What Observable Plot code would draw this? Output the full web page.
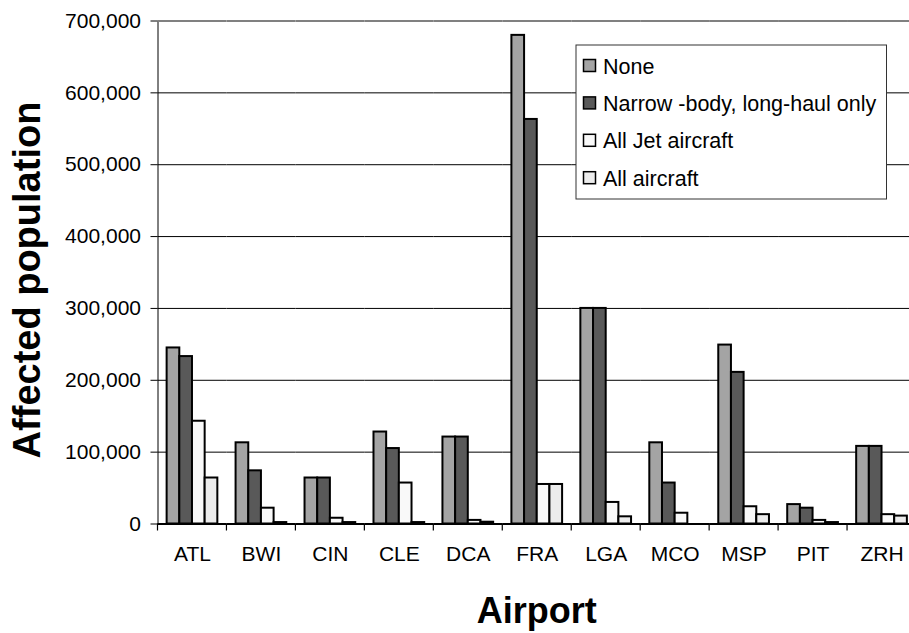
<!DOCTYPE html>
<html>
<head>
<meta charset="utf-8">
<script src="https://cdn.jsdelivr.net/npm/d3@7"></script>
<script src="https://cdn.jsdelivr.net/npm/@observablehq/plot@0.6"></script>
<style>
  html, body { margin: 0; padding: 0; background: #fff; overflow: hidden; }
  #wrap { position: relative; width: 909px; height: 633px; overflow: hidden; }
  #wrap svg { max-width: none !important; }
</style>
</head>
<body>
<div id="wrap"></div>
<script>
const airports = ["ATL","BWI","CIN","CLE","DCA","FRA","LGA","MCO","MSP","PIT","ZRH"];
const seriesNames = ["None","Narrow -body, long-haul only","All Jet aircraft","All aircraft"];
const noneVals        = [245000,113000,64000,128000,121000,680000,300000,113000,249000,27000,108000];
const narrowVals      = [233000, 74000,64000,105000,121000,563000,300000, 57000,211000,22000,108000];
const allJetVals      = [143000, 22000, 8000, 57000,  5000, 55000, 30000, 15000, 24000, 5000, 13000];
const allAircraftVals = [ 64000,  2000, 2000,  2000,  2500, 55000, 10000,     0, 13000, 2000, 11000];
const seriesColors = ["#a4a4a4","#595959","#f9f9f9","#ececec"];
const yTicks = [0,100000,200000,300000,400000,500000,600000,700000];
const yTitle = "Affected population";
const xTitle = "Airport";

const seriesValues = [noneVals, narrowVals, allJetVals, allAircraftVals];
const rows = [];
airports.forEach((a, i) => {
  seriesNames.forEach((s, j) => rows.push({airport: a, series: s, value: seriesValues[j][i]}));
});

const W = 925, H = 633;
const pLeft = 157.5, pRight = 916, pTop = 20.5, pBottom = 523.5;
const font = "'Liberation Sans', Arial, sans-serif";

const chart = Plot.plot({
  width: W, height: H,
  marginLeft: pLeft, marginRight: W - pRight, marginTop: pTop, marginBottom: H - pBottom,
  style: {fontFamily: font, fontSize: "21px", color: "#000", background: "#fff", maxWidth: "none"},
  facet: {data: rows, x: "airport"},
  fx: {domain: airports, padding: 0, round: false, label: null, axis: "bottom", tickSize: 0, tickPadding: 22},
  x: {domain: seriesNames, paddingInner: 0, paddingOuter: 0.72, round: false, axis: null},
  y: {domain: [0, 700000], ticks: yTicks, tickFormat: d3.format(","), tickSize: 7, tickPadding: 10, label: null, line: true},
  color: {domain: seriesNames, range: seriesColors},
  marks: [
    Plot.ruleY(yTicks.filter(v => v > 0 && v < 700000), {stroke: "#000", strokeWidth: 1}),
    Plot.ruleY([700000], {stroke: "#808080", strokeWidth: 2}),
    Plot.barY(rows, {x: "series", y: "value", fill: "series", stroke: "#000", strokeWidth: 2}),
    Plot.ruleY([0], {stroke: "#000", strokeWidth: 2})
  ]
});
chart.style.maxWidth = "none";
chart.style.width = W + "px";
chart.style.height = H + "px";

document.getElementById("wrap").appendChild(chart);

const svg = d3.select(chart);
// boundary tick marks below the category axis
const fxs = chart.scale("fx");
const band = d3.scaleBand().domain(fxs.domain).range(fxs.range).padding(0);
const bounds = fxs.domain.map(d => band(d)).concat([band.range()[1]]);
svg.append("g").selectAll("line").data(bounds).join("line")
  .attr("x1", d => d).attr("x2", d => d)
  .attr("y1", pBottom).attr("y2", pBottom + 7)
  .attr("stroke", "#000").attr("stroke-width", 1.2);

// axis titles
svg.append("text")
  .attr("transform", `translate(40,${(pTop + pBottom) / 2 + 8}) rotate(-90)`)
  .attr("text-anchor", "middle")
  .style("font", `bold 38px ${font}`)
  .text(yTitle);
svg.append("text")
  .attr("x", (pLeft + pRight) / 2).attr("y", 623)
  .attr("text-anchor", "middle")
  .style("font", `bold 36px ${font}`)
  .text(xTitle);

// legend
const lg = svg.append("g");
lg.append("rect").attr("x", 576).attr("y", 45).attr("width", 310.5).attr("height", 154)
  .attr("fill", "#fff").attr("stroke", "#333").attr("stroke-width", 1);
seriesNames.forEach((s, i) => {
  const cy = 66 + i * 37.4;
  lg.append("rect").attr("x", 583.5).attr("y", cy - 6.5).attr("width", 12).attr("height", 12)
    .attr("fill", seriesColors[i]).attr("stroke", "#000").attr("stroke-width", 1.5);
  lg.append("text").attr("x", 603).attr("y", cy + 7.5)
    .attr("text-anchor", "start")
    .style("font", `21.5px ${font}`).attr("fill", "#000").text(s);
});
</script>
</body>
</html>
